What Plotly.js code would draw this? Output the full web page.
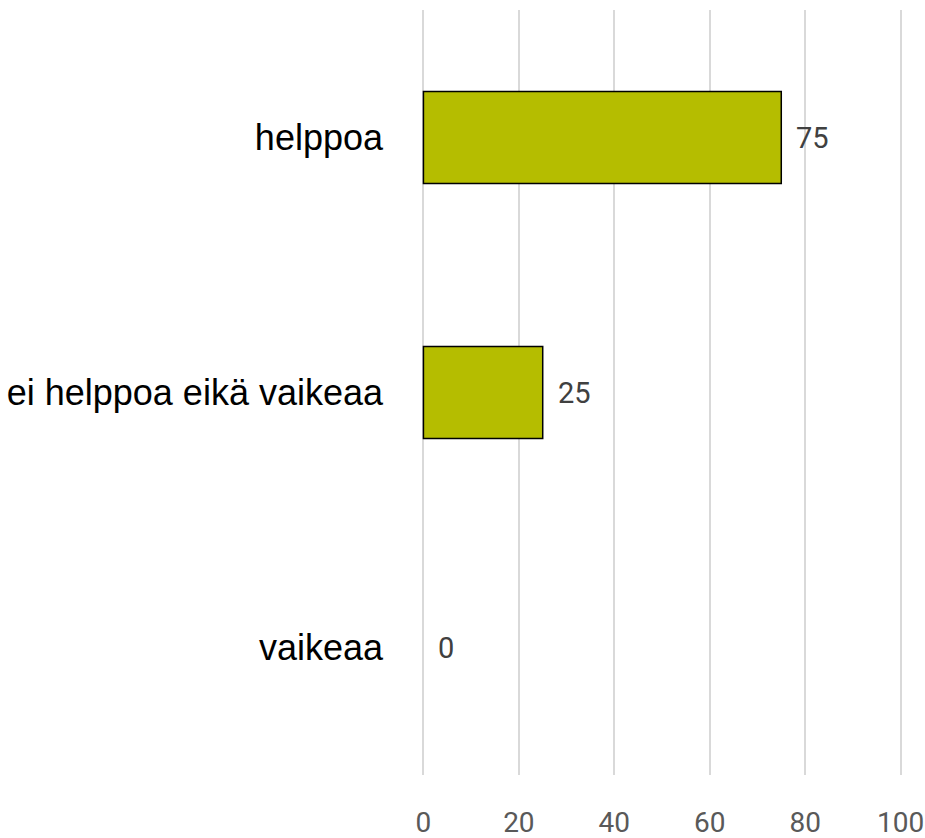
<!DOCTYPE html>
<html>
<head>
<meta charset="utf-8">
<script src="https://cdn.plot.ly/plotly-3.0.1.min.js"></script>
<style>html,body{margin:0;padding:0;background:#fff;}#chart{width:925px;height:838px;}</style>
</head>
<body>
<div id="chart"></div>
<script>
const categories = ["helppoa", "ei helppoa eikä vaikeaa", "vaikeaa"];
const values = [75, 25, 0];
const tickValues = [0, 20, 40, 60, 80, 100];
const tickLabels = ["0", "20", "40", "60", "80", "100"];

const numFont = "Roboto, 'Liberation Sans', sans-serif";

const trace = {
  type: "bar",
  orientation: "h",
  y: categories,
  x: values,
  marker: {color: "#b5bd00", line: {color: "#000000", width: values.map(v => v > 0 ? 1.5 : 0)}},
  width: 0.36,
  hoverinfo: "x+y"
};

const annotations = categories.map((c, i) => ({
  x: values[i], y: c, xref: "x", yref: "y",
  text: String(values[i]), showarrow: false,
  xanchor: "left", yanchor: "middle", xshift: 13,
  font: {family: numFont, size: 29, color: "#404040"}
}));

const layout = {
  width: 925, height: 838,
  margin: {l: 422, r: 23, t: 10, b: 63},
  paper_bgcolor: "#ffffff", plot_bgcolor: "#ffffff",
  showlegend: false,
  xaxis: {
    range: [-0.3, 100.3], tickvals: tickValues, ticktext: tickLabels,
    showgrid: true, gridcolor: "#d9d9d9", gridwidth: 2,
    zeroline: false, showline: false, ticks: "",
    ticklabelstandoff: 28,
    tickfont: {family: numFont, size: 28, color: "#595959"},
    fixedrange: true
  },
  yaxis: {
    categoryorder: "array", categoryarray: categories.slice().reverse(),
    autorange: true, showgrid: false, zeroline: false, showline: false, ticks: "",
    ticklabelstandoff: 38,
    tickfont: {family: "'Liberation Sans', Arial, sans-serif", size: 36, color: "#000000"},
    fixedrange: true
  },
  annotations: annotations
};

Plotly.newPlot("chart", [trace], layout, {displayModeBar: false, staticPlot: true});
</script>
</body>
</html>
